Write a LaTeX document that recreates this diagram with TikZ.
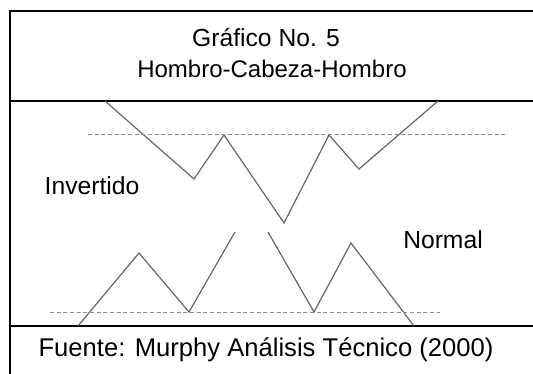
\documentclass[tikz,border=0pt]{standalone}
\usepackage{fontspec}
\setmainfont{Liberation Sans}
\begin{document}
\begin{tikzpicture}[x=0.75pt,y=-0.75pt,
  frame/.style={line width=1.4pt,black},
  pattern/.style={line width=0.9pt,color=black!60},
  neck/.style={line width=0.7pt,color=black!45,dash pattern=on 3pt off 2pt},
  lbl/.style={font=\fontsize{18.5}{22}\selectfont,inner sep=0pt}]
\useasboundingbox (0,0) rectangle (533,374);
% frame
\coordinate (tl) at (10,11);
\coordinate (tr) at (540,11);
\coordinate (bl) at (10,380);
\coordinate (h1) at (10,101);
\coordinate (h2) at (540,101);
\coordinate (f1) at (10,326);
\coordinate (f2) at (540,326);
\draw[frame] (bl) -- (tl) -- (tr);
\draw[frame] (h1) -- (h2);
\draw[frame] (f1) -- (f2);
% titles
\node[lbl] (t1) at (266,38) {Gráfico No. 5};
\node[lbl,font=\fontsize{18}{22}\selectfont] (t2) at (272,69) {Hombro-Cabeza-Hombro};
\node[lbl,font=\fontsize{19.2}{22}\selectfont] (src) at (266,350) {Fuente: Murphy Análisis Técnico (2000)};
\node[lbl] (inv) at (92,186) {Invertido};
\node[lbl] (nor) at (443,240) {Normal};
% inverted pattern
\coordinate (i0) at (105,101);
\coordinate (i1) at (194,179);
\coordinate (i2) at (224,135);
\coordinate (i3) at (284,223);
\coordinate (i4) at (329,135);
\coordinate (i5) at (359,169);
\coordinate (i6) at (438,101);
\draw[pattern] (i0) -- (i1) -- (i2) -- (i3) -- (i4) -- (i5) -- (i6);
\coordinate (n1a) at (88,134);
\coordinate (n1b) at (507,134);
\draw[neck] (n1a) -- (n1b);
% normal pattern
\coordinate (m0) at (78,326);
\coordinate (m1) at (139,253);
\coordinate (m2) at (189,312);
\coordinate (m3) at (235,232);
\coordinate (m4) at (268,232);
\coordinate (m5) at (314,312);
\coordinate (m6) at (351,243);
\coordinate (m7) at (414,326);
\draw[pattern] (m0) -- (m1) -- (m2) -- (m3);
\draw[pattern] (m4) -- (m5) -- (m6) -- (m7);
\coordinate (n2a) at (50,312);
\coordinate (n2b) at (440,312);
\draw[neck] (n2a) -- (n2b);
\end{tikzpicture}
\end{document}
